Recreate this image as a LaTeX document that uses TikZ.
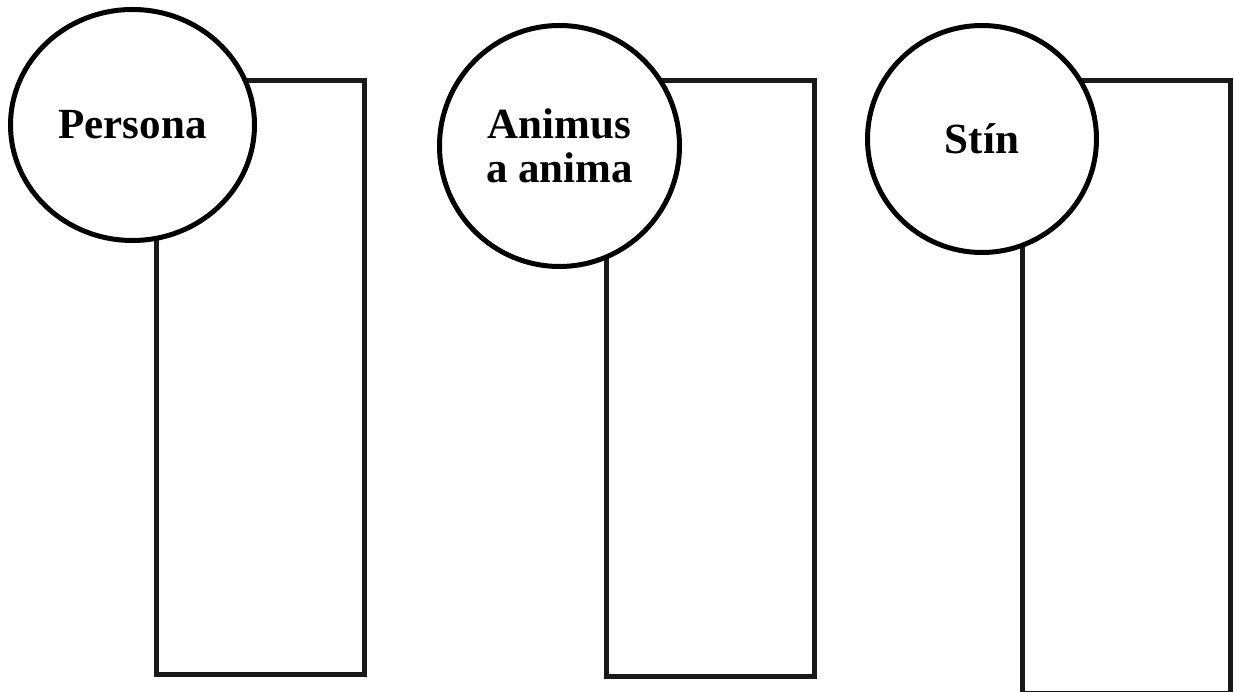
\documentclass[tikz,border=0pt]{standalone}
\usepackage{fontspec}
\setmainfont{Liberation Serif}
\usetikzlibrary{shapes.geometric}
\definecolor{boxline}{HTML}{1A1A1A}
\tikzset{
    panel/.style={draw=boxline, line width=5pt, rectangle, inner sep=0pt},
    bubble/.style={draw=black, line width=5pt, ellipse, fill=white, inner sep=0pt,
        align=center, font={\fontsize{43}{44}\selectfont\bfseries}}
}

\begin{document}
\begin{tikzpicture}[x=1pt,y=-1pt]
                \useasboundingbox (0,0) rectangle (1234,692);
                % the three panels
                \node[panel, minimum width=207.5pt, minimum height=594pt] (boxP) at (260.25,377.5) {};
                \node[panel, minimum width=207.5pt, minimum height=596pt] (boxA) at (710.25,378.5) {};
                \node[panel, minimum width=208pt, minimum height=612.5pt] (boxS) at (1126.5,386.75) {};
                % the circles on top
                \node[bubble, minimum width=244pt, minimum height=231pt] (persona) at (132.5,125) {Persona};
                \node[bubble, minimum width=240pt, minimum height=241pt] (animus) at (559.5,146) {Animus\\a anima};
                \node[bubble, minimum width=229pt, minimum height=227pt] (stin) at (982,139) {Stín};
            \end{tikzpicture}
\end{document}
